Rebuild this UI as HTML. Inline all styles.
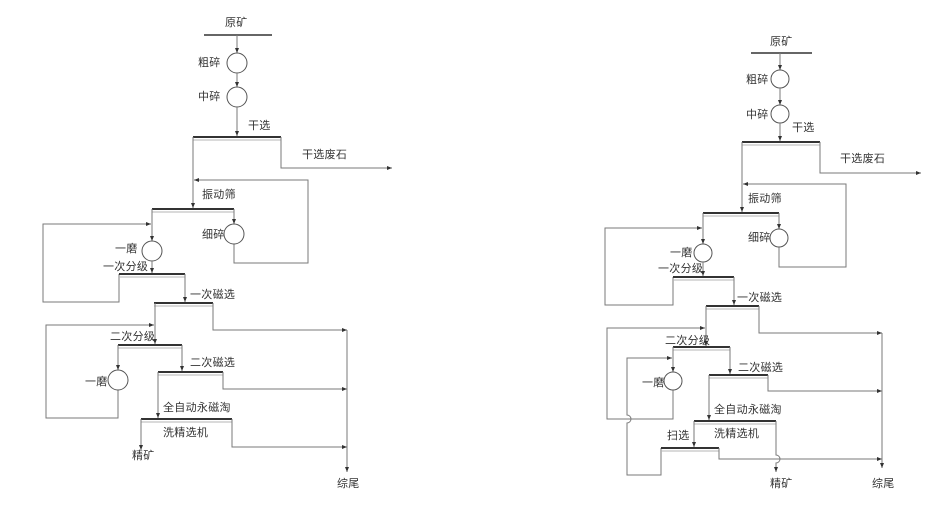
<!DOCTYPE html>
<html><head><meta charset="utf-8"><style>
html,body{margin:0;padding:0;background:#fff;}
svg{display:block;}
text{font-family:"Liberation Sans","Noto Sans CJK SC",sans-serif;font-size:11px;fill:#333;dominant-baseline:central;letter-spacing:0.3px;}
.l{fill:none;stroke:#7a7a7a;stroke-width:1;}
.b{stroke:#333;stroke-width:2;}
.t{stroke:#b5b5b5;stroke-width:1;}
.c{fill:#fff;stroke:#555;stroke-width:1;}
</style></head><body>
<svg width="946" height="511" viewBox="0 0 946 511" xmlns="http://www.w3.org/2000/svg">
<defs>
<marker id="a" markerWidth="6" markerHeight="4" refX="5" refY="2" orient="auto" markerUnits="userSpaceOnUse">
<path d="M0,0 L5,2 L0,4 Z" fill="#333"/>
</marker>
</defs>

<!-- ============ LEFT ============ -->
<text x="225" y="23">原矿</text>
<line x1="204" y1="35" x2="272" y2="35" stroke="#333" stroke-width="1.5"/>
<line class="l" x1="237" y1="35" x2="237" y2="53" marker-end="url(#a)"/>
<circle class="c" cx="237" cy="63" r="10"/>
<text x="198" y="63">粗碎</text>
<line class="l" x1="237" y1="73" x2="237" y2="87" marker-end="url(#a)"/>
<circle class="c" cx="237" cy="97" r="10"/>
<text x="198" y="97">中碎</text>
<line class="l" x1="237" y1="107" x2="237" y2="136" marker-end="url(#a)"/>
<text x="248" y="126">干选</text>
<line class="b" x1="193" y1="137" x2="281" y2="137"/>
<line class="t" x1="193" y1="140" x2="281" y2="140"/>
<polyline class="l" points="281,137 281,168 392,168" marker-end="url(#a)"/>
<text x="302" y="155">干选废石</text>
<line class="l" x1="193" y1="137" x2="193" y2="208" marker-end="url(#a)"/>
<polyline class="l" points="234,244 234,263 308,263 308,180 194,180" marker-end="url(#a)"/>
<text x="202" y="195">振动筛</text>
<line class="b" x1="152" y1="209" x2="234" y2="209"/>
<line class="t" x1="152" y1="212" x2="234" y2="212"/>
<line class="l" x1="234" y1="209" x2="234" y2="224" marker-end="url(#a)"/>
<circle class="c" cx="234" cy="234" r="10"/>
<text x="202" y="235">细碎</text>
<line class="l" x1="152" y1="209" x2="152" y2="241" marker-end="url(#a)"/>
<circle class="c" cx="152" cy="251" r="10"/>
<text x="115" y="249">一磨</text>
<text x="103" y="267">一次分级</text>
<line class="l" x1="152" y1="261" x2="152" y2="273" marker-end="url(#a)"/>
<polyline class="l" points="119,274 119,302 43,302 43,224 151,224" marker-end="url(#a)"/>
<line class="b" x1="119" y1="274" x2="185" y2="274"/>
<line class="t" x1="119" y1="277" x2="185" y2="277"/>
<line class="l" x1="185" y1="274" x2="185" y2="302" marker-end="url(#a)"/>
<text x="190" y="295">一次磁选</text>
<line class="b" x1="154" y1="303" x2="213" y2="303"/>
<line class="t" x1="154" y1="306" x2="213" y2="306"/>
<polyline class="l" points="213,303 213,330 347,330" marker-end="url(#a)"/>
<line class="l" x1="155" y1="303" x2="155" y2="344" marker-end="url(#a)"/>
<polyline class="l" points="118,390 118,418 46,418 46,325 154,325" marker-end="url(#a)"/>
<text x="110" y="337">二次分级</text>
<line class="b" x1="118" y1="345" x2="182" y2="345"/>
<line class="t" x1="118" y1="348" x2="182" y2="348"/>
<line class="l" x1="118" y1="345" x2="118" y2="370" marker-end="url(#a)"/>
<circle class="c" cx="118" cy="380" r="10"/>
<text x="85" y="382">一磨</text>
<line class="l" x1="182" y1="345" x2="182" y2="371" marker-end="url(#a)"/>
<text x="190" y="363">二次磁选</text>
<line class="b" x1="158" y1="372" x2="223" y2="372"/>
<line class="t" x1="158" y1="375" x2="223" y2="375"/>
<polyline class="l" points="223,372 223,389 347,389" marker-end="url(#a)"/>
<line class="l" x1="158" y1="372" x2="158" y2="418" marker-end="url(#a)"/>
<text x="163" y="408">全自动永磁淘</text>
<line class="b" x1="141" y1="419" x2="232" y2="419"/>
<line class="t" x1="141" y1="422" x2="232" y2="422"/>
<text x="163" y="433">洗精选机</text>
<line class="l" x1="141" y1="419" x2="141" y2="450" marker-end="url(#a)"/>
<text x="132" y="456">精矿</text>
<polyline class="l" points="232,419 232,447 347,447" marker-end="url(#a)"/>
<line class="l" x1="347" y1="330" x2="347" y2="472" marker-end="url(#a)"/>
<text x="337" y="484">综尾</text>

<!-- ============ RIGHT ============ -->
<text x="770" y="42">原矿</text>
<line x1="751" y1="53" x2="812" y2="53" stroke="#333" stroke-width="1.5"/>
<line class="l" x1="780" y1="53" x2="780" y2="70" marker-end="url(#a)"/>
<circle class="c" cx="780" cy="79" r="9"/>
<text x="746" y="80">粗碎</text>
<line class="l" x1="780" y1="88" x2="780" y2="105" marker-end="url(#a)"/>
<circle class="c" cx="780" cy="114" r="9"/>
<text x="746" y="115">中碎</text>
<line class="l" x1="780" y1="123" x2="780" y2="141" marker-end="url(#a)"/>
<text x="792" y="128">干选</text>
<line class="b" x1="742" y1="142" x2="820" y2="142"/>
<line class="t" x1="742" y1="145" x2="820" y2="145"/>
<polyline class="l" points="820,142 820,173 921,173" marker-end="url(#a)"/>
<text x="840" y="159">干选废石</text>
<line class="l" x1="742" y1="142" x2="742" y2="212" marker-end="url(#a)"/>
<polyline class="l" points="779,247 779,267 846,267 846,184 743,184" marker-end="url(#a)"/>
<text x="748" y="199">振动筛</text>
<line class="b" x1="703" y1="213" x2="779" y2="213"/>
<line class="t" x1="703" y1="216" x2="779" y2="216"/>
<line class="l" x1="779" y1="213" x2="779" y2="229" marker-end="url(#a)"/>
<circle class="c" cx="779" cy="238" r="9"/>
<text x="748" y="238">细碎</text>
<line class="l" x1="703" y1="213" x2="703" y2="244" marker-end="url(#a)"/>
<circle class="c" cx="703" cy="253" r="9"/>
<text x="670" y="253">一磨</text>
<text x="658" y="269">一次分级</text>
<line class="l" x1="703" y1="262" x2="703" y2="276" marker-end="url(#a)"/>
<polyline class="l" points="673,277 673,305 605,305 605,228 702,228" marker-end="url(#a)"/>
<line class="b" x1="673" y1="277" x2="734" y2="277"/>
<line class="t" x1="673" y1="280" x2="734" y2="280"/>
<line class="l" x1="734" y1="277" x2="734" y2="305" marker-end="url(#a)"/>
<text x="737" y="298">一次磁选</text>
<line class="b" x1="706" y1="306" x2="759" y2="306"/>
<line class="t" x1="706" y1="309" x2="759" y2="309"/>
<polyline class="l" points="759,306 759,333 882,333" marker-end="url(#a)"/>
<line class="l" x1="706" y1="306" x2="706" y2="346" marker-end="url(#a)"/>
<polyline class="l" points="673,390 673,419 607,419 607,328 705,328" marker-end="url(#a)"/>
<text x="665" y="341">二次分级</text>
<line class="b" x1="673" y1="347" x2="730" y2="347"/>
<line class="t" x1="673" y1="350" x2="730" y2="350"/>
<line class="l" x1="673" y1="347" x2="673" y2="372" marker-end="url(#a)"/>
<circle class="c" cx="673" cy="381" r="9"/>
<text x="642" y="383">一磨</text>
<path class="l" d="M661,448 L661,475 L627,475 L627,423 A4,4 0 0 0 627,415 L627,358 L672,358" marker-end="url(#a)"/>
<line class="l" x1="730" y1="347" x2="730" y2="374" marker-end="url(#a)"/>
<text x="738" y="368">二次磁选</text>
<line class="b" x1="709" y1="375" x2="768" y2="375"/>
<line class="t" x1="709" y1="378" x2="768" y2="378"/>
<polyline class="l" points="768,375 768,391 882,391" marker-end="url(#a)"/>
<line class="l" x1="709" y1="375" x2="709" y2="420" marker-end="url(#a)"/>
<text x="714" y="410">全自动永磁淘</text>
<line class="b" x1="694" y1="421" x2="776" y2="421"/>
<line class="t" x1="694" y1="424" x2="776" y2="424"/>
<text x="714" y="434">洗精选机</text>
<line class="l" x1="694" y1="421" x2="694" y2="447" marker-end="url(#a)"/>
<text x="667" y="436">扫选</text>
<line class="b" x1="661" y1="448" x2="719" y2="448"/>
<line class="t" x1="661" y1="451" x2="719" y2="451"/>
<polyline class="l" points="719,448 719,459 882,459" marker-end="url(#a)"/>
<path class="l" d="M776,421 L776,455 A4,4 0 0 1 776,463 L776,472" marker-end="url(#a)"/>
<text x="770" y="484">精矿</text>
<line class="l" x1="882" y1="333" x2="882" y2="468" marker-end="url(#a)"/>
<text x="872" y="484">综尾</text>
</svg>
</body></html>
